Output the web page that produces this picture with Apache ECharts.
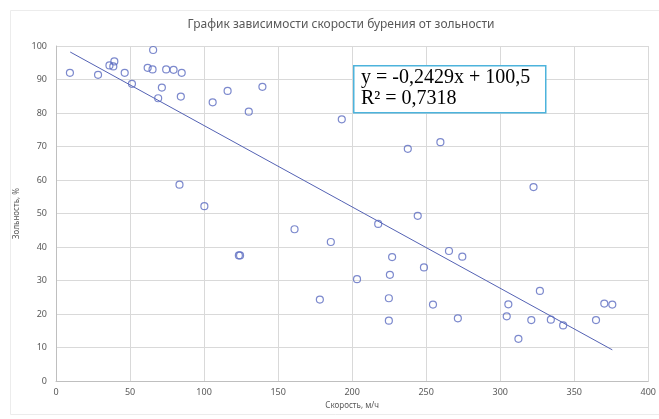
<!DOCTYPE html>
<html>
<head>
<meta charset="utf-8">
<script src="https://cdn.jsdelivr.net/npm/echarts@6/dist/echarts.min.js"></script>
<style>
html,body{margin:0;padding:0;background:#fff;}
#c{width:659px;height:419px;}
</style>
</head>
<body>
<div id="c"></div>
<script>
// Скорость бурения, м/ч
const speed = [9.4, 28.4, 36.1, 39.4, 38.7, 46.4, 51.3, 65.6, 61.9, 65.2, 74.4, 79.4, 84.9, 71.5, 69.0, 84.3,
  105.8, 83.4, 100.2, 115.9, 130.2, 139.4, 193.0, 237.6, 259.6, 123.5, 124.3, 161.1, 178.2, 322.5, 244.3,
  217.6, 185.6, 265.4, 274.4, 227.0, 248.5, 225.5, 203.3, 326.8, 224.8, 254.6, 305.5, 370.3, 375.7, 304.4,
  271.4, 224.8, 321.0, 334.2, 342.5, 364.7, 312.3];
// Зольность, %
const ash = [92.0, 91.4, 94.2, 95.4, 93.9, 92.0, 88.7, 98.8, 93.5, 93.0, 93.0, 92.9, 92.0, 87.6, 84.4, 84.9,
  83.2, 58.6, 52.2, 86.6, 80.4, 87.8, 78.1, 69.3, 71.3, 37.5, 37.5, 45.3, 24.3, 57.9, 49.3,
  46.9, 41.5, 38.8, 37.1, 37.0, 33.9, 31.7, 30.4, 26.9, 24.7, 22.8, 22.9, 23.1, 22.8, 19.3,
  18.7, 18.0, 18.2, 18.3, 16.6, 18.2, 12.6];
// Линия тренда (концы)
const trendX = [9.6, 375.7];
const trendY = [98.2, 9.3];
const xTicks = [0, 50, 100, 150, 200, 250, 300, 350, 400];
const yTicks = [0, 10, 20, 30, 40, 50, 60, 70, 80, 90, 100];
const titleText = 'График зависимости скорости бурения от зольности';
const xName = 'Скорость, м/ч';
const yName = 'Зольность, %';
const eqLine1 = 'y = -0,2429x + 100,5';
const eqLine2 = 'R² = 0,7318';

const chart = echarts.init(document.getElementById('c'), null, {renderer: 'canvas'});
const labelStyle = {color: '#595959', fontSize: 9, fontFamily: 'Noto Sans'};
chart.setOption({
  animation: false,
  backgroundColor: '#fff',
  title: {
    text: titleText, left: 336, top: 14, textAlign: 'center',
    textStyle: {color: '#595959', fontSize: 12, fontWeight: 'normal', fontFamily: 'Noto Sans'}
  },
  grid: {left: 56, right: 8, top: 46, bottom: 38, containLabel: false},
  xAxis: {
    type: 'value', min: xTicks[0], max: xTicks[xTicks.length - 1], interval: 50,
    name: xName, nameLocation: 'middle', nameGap: 21,
    nameTextStyle: {color: '#595959', fontSize: 8, fontFamily: 'Noto Sans'},
    axisLine: {show: true, lineStyle: {color: '#bfbfbf', width: 1}},
    axisTick: {show: false},
    axisLabel: Object.assign({margin: 7}, labelStyle),
    splitLine: {show: true, lineStyle: {color: '#d9d9d9', width: 1}}
  },
  yAxis: {
    type: 'value', min: yTicks[0], max: yTicks[yTicks.length - 1], interval: 10,
    name: yName, nameLocation: 'middle', nameGap: 27, nameRotate: 90,
    nameTextStyle: {color: '#595959', fontSize: 8, fontFamily: 'Noto Sans'},
    axisLine: {show: true, lineStyle: {color: '#bfbfbf', width: 1}},
    axisTick: {show: false},
    axisLabel: Object.assign({margin: 9}, labelStyle),
    splitLine: {show: true, lineStyle: {color: '#d9d9d9', width: 1}}
  },
  series: [
    {
      type: 'scatter',
      data: speed.map((v, i) => [v, ash[i]]),
      symbol: 'circle', symbolSize: 7,
      itemStyle: {color: 'rgba(255,255,255,0)', borderColor: '#5b6cc0', borderWidth: 1.2},
      z: 3
    },
    {
      type: 'line',
      data: trendX.map((v, i) => [v, trendY[i]]),
      showSymbol: false, symbol: 'none',
      lineStyle: {color: '#5462b4', width: 1},
      z: 2
    }
  ],
  graphic: [
    {
      type: 'rect', left: 8, top: 8, z: -10, silent: true,
      shape: {width: 660, height: 404},
      style: {fill: 'none', stroke: '#ececec', lineWidth: 1}
    },
    {
      type: 'rect', left: 353, top: 65, z: 10,
      shape: {width: 192, height: 47},
      style: {fill: '#fff', stroke: '#4db3dc', lineWidth: 1.5}
    },
    {
      type: 'text', left: 361, top: 67, z: 11,
      style: {
        text: eqLine1 + '\n' + eqLine2,
        fill: '#000', fontSize: 20, lineHeight: 21,
        fontFamily: 'Liberation Serif'
      }
    }
  ]
});
</script>
</body>
</html>
